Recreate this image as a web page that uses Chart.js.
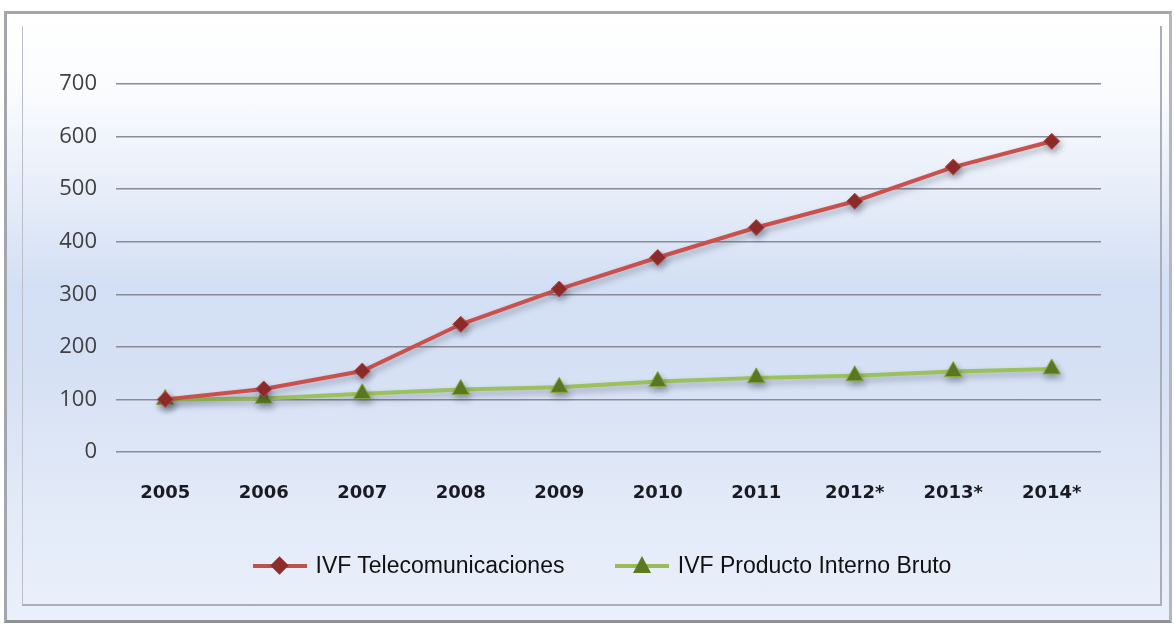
<!DOCTYPE html>
<html>
<head>
<meta charset="utf-8">
<script src="https://cdn.jsdelivr.net/npm/chart.js@4.4.0/dist/chart.umd.min.js"></script>
<style>
  html, body { margin: 0; padding: 0; background: #fff; }
  #wrap { position: relative; width: 1174px; height: 624px; overflow: hidden; }
  #frame {
    position: absolute; left: 4px; top: 11px; width: 1162px; height: 606px;
    border: 3px solid #a3a6ab; border-bottom-color: #8e9196; border-right-color: #b5b8bd;
    background: linear-gradient(to bottom, #ffffff 0%, #fbfcfe 12%, #e6edf9 30%, #d3dff4 45%, #d6e1f4 60%, #e2eaf8 80%, #eaf0fb 100%);
  }
  #inner {
    position: absolute; left: 15px; top: 12px; right: 7px; bottom: 14px;
    border-left: 1px solid #b9bec8; border-right: 2px solid #a9aeb8; border-bottom: 2px solid #a9aeb8;
  }
  canvas { position: absolute; left: 0; top: 0; }
  #legend {
    position: absolute; left: 0; width: 1204px; top: 552px; text-align: center;
    font-family: "Liberation Sans", sans-serif; font-size: 23px; color: #111;
  }
  .item { display: inline-block; margin: 0 22px; white-space: nowrap; }
  .key { display: inline-block; position: relative; width: 54px; height: 20px; vertical-align: -3px; margin-right: 9px; }
  .key .ln { position: absolute; left: 0; right: 0; top: 8px; height: 4px; }
  .key .dia { position: absolute; left: 20px; top: 3px; width: 13px; height: 13px; background: #8e2c2a; transform: rotate(45deg); }
  .key .tri { position: absolute; left: 18px; top: 0px; width: 0; height: 0;
    border-left: 9px solid transparent; border-right: 9px solid transparent; border-bottom: 17px solid #5d7a22; }
</style>
</head>
<body>
<div id="wrap">
  <div id="frame"><div id="inner"></div></div>
  <canvas id="lineChart" width="1174" height="624"></canvas>
  <div id="legend">
    <span class="item"><span class="key"><span class="ln" style="background:#c0504d"></span><span class="dia"></span></span>IVF Telecomunicaciones</span>
    <span class="item"><span class="key"><span class="ln" style="background:#9bbb59"></span><span class="tri"></span></span>IVF Producto Interno Bruto</span>
  </div>
</div>
<script>
// DATA

const years = ['2005', '2006', '2007', '2008', '2009', '2010', '2011', '2012*', '2013*', '2014*'];
const telecom = [100, 120, 154, 243, 310, 370, 427, 477, 542, 591];
const pib = [100, 102, 111, 119, 123, 134, 141, 145, 153, 158];
const yTicks = [0, 100, 200, 300, 400, 500, 600, 700];


// SOFT SHADOW UNDER THE LINES

const shadow = {
    id: 'shadow',
    beforeDatasetsDraw(chart) {
        const c = chart.ctx;
        c.save();
        c.shadowColor = 'rgba(40, 50, 70, 0.35)';
        c.shadowBlur = 6;
        c.shadowOffsetX = 2;
        c.shadowOffsetY = 4;
    },
    afterDatasetsDraw(chart) {
        chart.ctx.restore();
    }
};


// CHART

const ctx = document.getElementById('lineChart');

new Chart(ctx, {
    type: 'line',

    data: {
        labels: years,
        datasets: [
            {
                label: 'IVF Telecomunicaciones',
                data: telecom,
                borderColor: '#c9504c',
                borderWidth: 4,
                pointStyle: 'rectRot',
                pointRadius: 8,
                pointBackgroundColor: '#8e2c2a',
                pointBorderColor: '#b54a47',
                pointBorderWidth: 1,
                tension: 0
            },
            {
                label: 'IVF Producto Interno Bruto',
                data: pib,
                borderColor: '#9cc05a',
                borderWidth: 4,
                pointStyle: 'triangle',
                pointRadius: 10,
                pointBackgroundColor: '#5d7a22',
                pointBorderColor: '#86a83e',
                pointBorderWidth: 1,
                tension: 0
            }
        ]
    },

    options: {
        responsive: false,
        animation: false,
        layout: { padding: { top: 84, right: 73, bottom: 0, left: 0 } },

        plugins: {
            legend: { display: false },
            tooltip: { enabled: false }
        },

        scales: {
            x: {
                offset: true,
                grid: { display: false, drawTicks: false },
                border: { display: false },
                ticks: {
                    padding: 31,
                    color: '#1a1a22',
                    font: { family: 'DejaVu Sans', size: 18, weight: 'bold' }
                },
                afterFit(scale) { scale.height = 172; }
            },
            y: {
                min: 0,
                max: 700,
                afterBuildTicks(scale) { scale.ticks = yTicks.map(v => ({ value: v })); },
                grid: { color: '#878c96', lineWidth: 1.5, drawTicks: false },
                border: { display: false },
                ticks: {
                    padding: 19,
                    color: '#404040',
                    font: { family: 'Open Sans', size: 22 }
                },
                afterFit(scale) { scale.width = 116; }
            }
        }
    },

    plugins: [shadow]
});
</script>
</body>
</html>
